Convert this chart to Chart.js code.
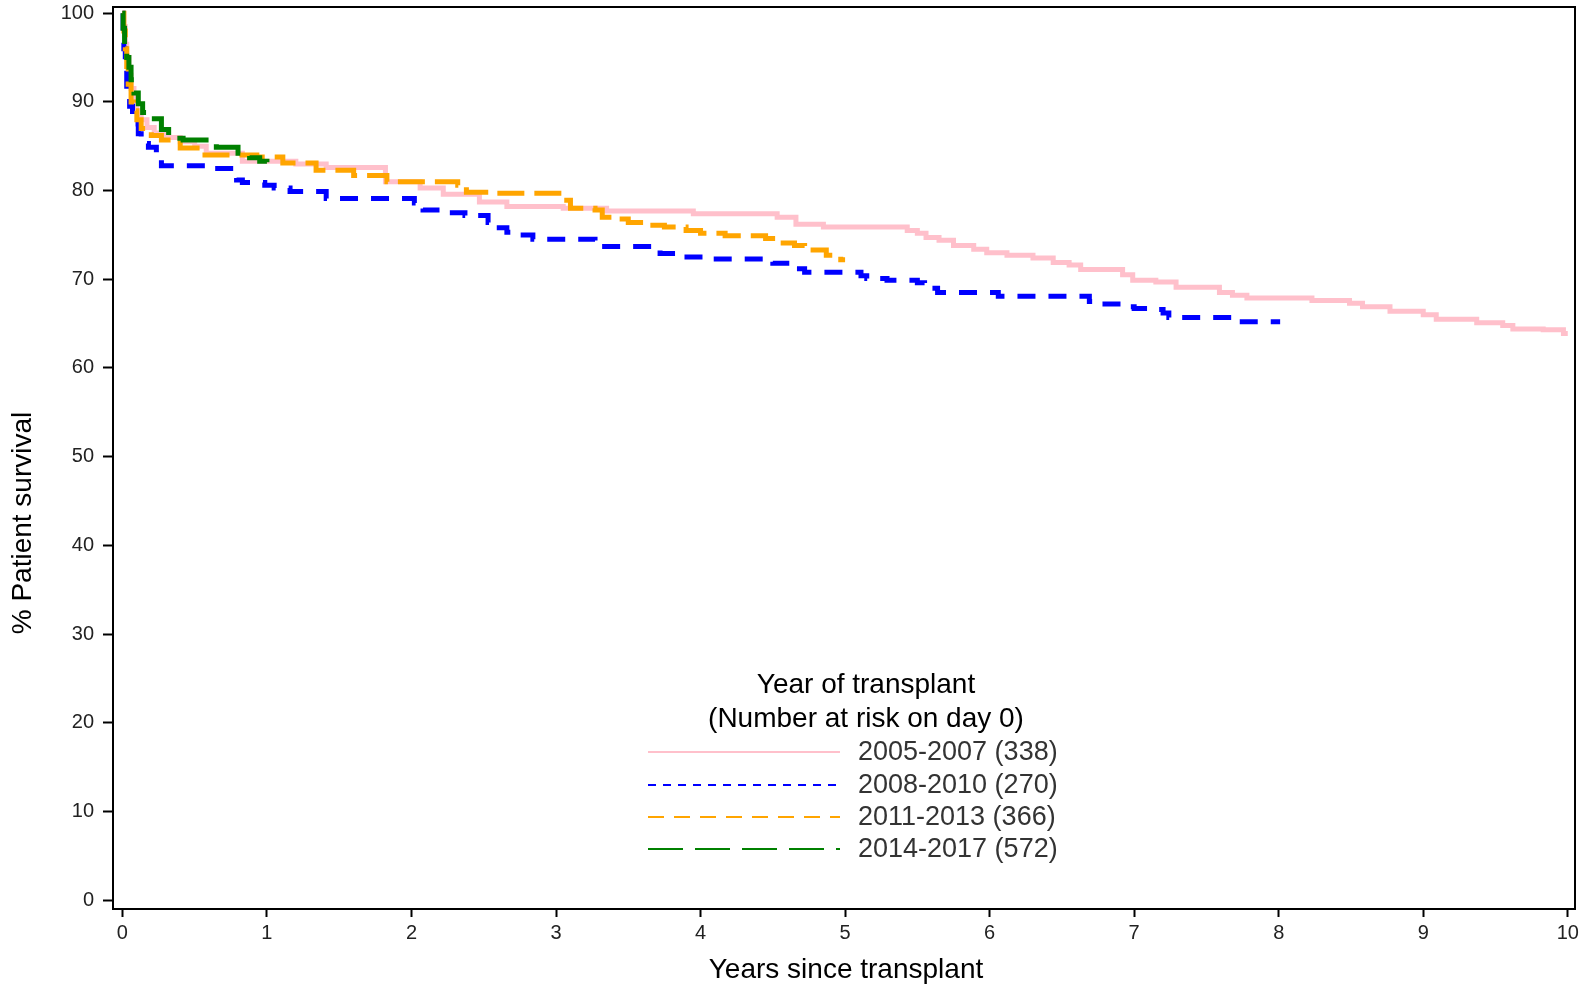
<!DOCTYPE html>
<html>
<head>
<meta charset="utf-8">
<script src="https://cdn.jsdelivr.net/npm/chart.js@4.4.1/dist/chart.umd.min.js"></script>
<style>
html,body{margin:0;padding:0;background:#fff;}
canvas{display:block;}
</style>
</head>
<body>
<canvas id="c" width="1580" height="988"></canvas>
<script>
// ---- data ----
const seriesLabels = ["2005-2007 (338)", "2008-2010 (270)", "2011-2013 (366)", "2014-2017 (572)"];
const legendTitle = ["Year of transplant", "(Number at risk on day 0)"];
const xTicks = [0,1,2,3,4,5,6,7,8,9,10];
const yTicks = [0,10,20,30,40,50,60,70,80,90,100];

const t2005 = [0,0.01,0.02,0.03,0.045,0.06,0.08,0.1,0.13,0.17,0.22,0.3,0.4,0.5,0.58,0.83,1.2,1.41,1.82,2.06,2.22,2.47,2.66,3.05,3.35,3.95,4.53,4.66,4.85,5.43,5.5,5.56,5.65,5.75,5.89,5.98,6.12,6.3,6.44,6.55,6.63,6.92,6.99,7.15,7.29,7.59,7.68,7.78,8.23,8.49,8.58,8.77,9.0,9.09,9.37,9.55,9.62,9.83,9.97,10.0];
const s2005 = [100,98.5,96.5,95,93,91.5,90,89,88,87.1,86.5,86,85.5,85,84.2,83.3,83.0,82.6,81.0,80.3,79.6,78.7,78.2,78.0,77.7,77.4,77.0,76.2,75.9,75.5,75.2,74.7,74.4,73.8,73.4,73.0,72.7,72.4,71.9,71.6,71.1,70.5,69.9,69.7,69.1,68.5,68.2,67.9,67.6,67.3,66.9,66.4,66.0,65.5,65.1,64.8,64.4,64.3,63.9,63.9];

const t2008 = [0,0.005,0.01,0.02,0.03,0.05,0.07,0.09,0.11,0.13,0.18,0.235,0.27,0.6,0.79,0.83,0.985,1.05,1.16,1.41,2.02,2.08,2.2,2.37,2.53,2.58,2.66,2.72,2.84,3.27,3.31,3.66,3.72,3.84,4.05,4.5,4.66,4.72,5.11,5.15,5.29,5.5,5.55,5.64,6.06,6.69,6.72,6.94,7.0,7.12,7.2,7.24,7.68,8.01];
const s2008 = [100,98,96,93.5,91,89.5,88.5,87.5,86.4,85.3,84.9,83.6,82.8,82.5,81.2,80.9,80.6,80.3,79.9,79.1,78.6,77.8,77.5,77.2,76.4,75.8,75.3,75.0,74.5,74.2,73.7,73.3,72.9,72.5,72.3,71.8,71.2,70.8,70.4,70.1,69.9,69.6,69.0,68.5,68.1,67.5,67.2,66.9,66.7,66.6,66.2,65.7,65.2,65.2];

const t2011 = [0,0.01,0.02,0.03,0.04,0.06,0.08,0.1,0.13,0.2,0.27,0.4,0.55,0.93,1.11,1.34,1.6,1.83,2.32,2.38,2.54,3.05,3.1,3.27,3.32,3.44,3.5,3.67,3.75,3.9,4.0,4.17,4.45,4.52,4.65,4.72,4.87,4.97,5.0];
const s2011 = [100,98,96,94,92,90,89,88,87,86.2,85.7,84.8,84.0,83.8,83.1,82.3,81.7,81.0,80.6,79.8,79.7,78.9,78.0,77.8,77.0,76.8,76.4,76.1,75.9,75.5,75.2,74.9,74.6,74.1,73.8,73.3,72.7,72.2,72.2];

const t2014 = [0,0.005,0.015,0.03,0.045,0.06,0.08,0.11,0.14,0.17,0.27,0.32,0.36,0.42,0.6,0.65,0.8,0.88,0.95,1.0];
const s2014 = [100,98.3,96.5,95,93.9,92.5,91,89.8,88.8,88.1,86.9,86.2,85.9,85.7,85.4,84.9,84.2,83.7,83.3,83.2];

const colors = ["#FFC0CB", "#0000FF", "#FFA500", "#008000"];
const plotDash = [[], [18,13], [27,10], [33,12]];
const legendDash = [[], [8,7], [16,10], [35,12]];

function pts(t, s){ return t.map((v,i)=>({x:v, y:s[i]})); }
const allT = [t2005, t2008, t2011, t2014];
const allS = [s2005, s2008, s2011, s2014];

const FONT = '"Liberation Sans", Arial, sans-serif';

const datasets = seriesLabels.map((lab,i)=>({
  label: lab,
  data: pts(allT[i], allS[i]),
  borderColor: colors[i],
  backgroundColor: colors[i],
  borderWidth: 5,
  borderDash: plotDash[i],
  borderCapStyle: 'butt',
  borderJoinStyle: 'miter',
  stepped: 'before',
  pointRadius: 0,
  fill: false,
  order: 4 - i
}));

const decor = {
  id: 'decor',
  afterDraw(chart){
    const ctx = chart.ctx;
    const a = chart.chartArea;
    ctx.save();
    // frame
    ctx.strokeStyle = '#000';
    ctx.lineWidth = 2;
    ctx.strokeRect(a.left, a.top, a.right - a.left, a.bottom - a.top);
    // axis titles
    ctx.fillStyle = '#000';
    ctx.font = '28px ' + FONT;
    ctx.textAlign = 'center';
    ctx.textBaseline = 'middle';
    ctx.fillText('Years since transplant', 846, 970);
    ctx.save();
    ctx.translate(23, 523);
    ctx.rotate(-Math.PI/2);
    ctx.fillText('% Patient survival', 0, 0);
    ctx.restore();
    // legend
    ctx.font = '28px ' + FONT;
    ctx.fillText(legendTitle[0], 866, 685);
    ctx.fillText(legendTitle[1], 866, 719);
    const rows = [752, 785, 817, 849];
    ctx.textAlign = 'left';
    ctx.font = '27px ' + FONT;
    rows.forEach((y,i)=>{
      ctx.save();
      ctx.strokeStyle = colors[i];
      ctx.lineWidth = 2;
      ctx.setLineDash(legendDash[i]);
      ctx.beginPath();
      ctx.moveTo(648, y);
      ctx.lineTo(840, y);
      ctx.stroke();
      ctx.restore();
      ctx.fillStyle = '#333';
      ctx.fillText(seriesLabels[i], 858, y + 1);
    });
    ctx.restore();
  }
};

new Chart(document.getElementById('c'), {
  type: 'line',
  data: { datasets },
  options: {
    responsive: false,
    animation: false,
    devicePixelRatio: 1,
    layout: { padding: { left: 0, top: 7, right: 5, bottom: 0 } },
    plugins: { legend: { display: false }, tooltip: { enabled: false }, title: { display: false } },
    scales: {
      x: {
        type: 'linear',
        min: -0.065,
        max: 10.05,
        afterBuildTicks: s => { s.ticks = xTicks.map(v=>({value:v})); },
        afterFit: s => { s.height = 79; s.paddingLeft = 0; s.paddingRight = 0; },
        grid: { display: true, drawOnChartArea: false, drawTicks: true, tickLength: 8, tickWidth: 2, tickColor: '#000' },
        border: { display: false },
        ticks: { color: '#222', font: { family: FONT, size: 20 }, padding: 4, maxRotation: 0, autoSkip: false }
      },
      y: {
        type: 'linear',
        min: -1,
        max: 100.7,
        afterBuildTicks: s => { s.ticks = yTicks.map(v=>({value:v})); },
        afterFit: s => { s.width = 113; s.paddingTop = 0; s.paddingBottom = 0; },
        grid: { display: true, drawOnChartArea: false, drawTicks: true, tickLength: 10, tickWidth: 2, tickColor: '#000' },
        border: { display: false },
        ticks: { color: '#222', font: { family: FONT, size: 20 }, padding: 9, autoSkip: false }
      }
    }
  },
  plugins: [decor]
});
</script>
</body>
</html>
